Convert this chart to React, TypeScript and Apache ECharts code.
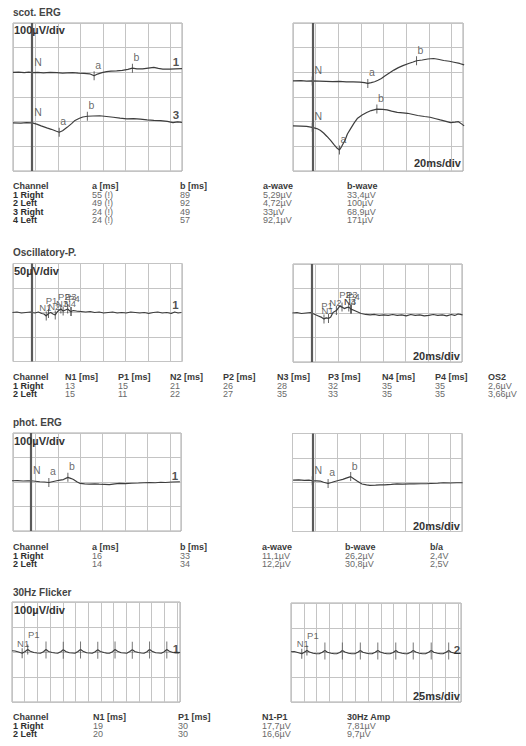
import React, { useEffect, useRef } from 'react';
import * as echarts from 'echarts';

type Pt = [number, number];
type Mark = [string, number];

// ---------- traces (time in ms after stimulus, amplitude in µV) ----------
const SCOT_CH1: Pt[] = [[-17,0],[-12,1],[-7,-1],[-3,1],[0,-1],[5,0],[10,-2],[16,0],[22,-1],[27,-3],[31,-2],[36,-1],[41,-3],[46,-4],[51,-6],[55,-14],[58,-7],[62,-1],[66,3],[70,5],[75,6],[80,8],[85,12],[89,17],[93,14],[98,14],[103,17],[108,20],[112,16],[116,13],[122,13],[127,14],[133,15]];
const SCOT_CH2: Pt[] = [[-17,0],[-10,1],[-5,-1],[0,0],[6,-1],[12,-2],[18,-3],[24,-2],[30,-4],[36,-4],[42,-5],[46,-7],[49,-10],[52,-7],[55,-3],[58,3],[61,10],[64,20],[68,32],[72,44],[76,54],[80,62],[85,71],[89,77],[92,82],[97,85],[102,89],[107,91],[111,88],[116,83],[121,80],[125,76],[130,71],[134,65]];
const SCOT_CH3: Pt[] = [[-17,0],[-10,-1],[-5,1],[0,0],[4,-5],[8,-12],[13,-20],[17,-26],[21,-33],[24,-38],[27,-32],[31,-18],[35,-3],[38,10],[42,19],[45,24],[49,27],[54,28],[60,29],[66,26],[72,23],[78,19],[84,16],[90,17],[96,15],[102,12],[108,10],[114,9],[120,6],[125,1],[129,4],[133,2]];
const SCOT_CH4: Pt[] = [[-17,3],[-10,2],[-5,1],[0,-3],[4,-8],[7,-15],[10,-26],[13,-40],[16,-55],[19,-72],[22,-88],[24,-95],[26,-80],[29,-54],[31,-30],[34,-7],[37,15],[40,34],[44,47],[48,57],[52,65],[57,71],[62,70],[66,68],[70,63],[75,58],[80,56],[84,54],[89,49],[93,45],[99,41],[104,38],[109,32],[113,27],[118,21],[122,16],[126,18],[129,20],[132,10],[134,3]];

const OP_CH1: Pt[] = [[-17,0],[-13,1],[-9,-1],[-5,0],[-1,1],[0,0],[3,-1],[6,1],[9,-2],[11,-3],[13,-7],[15,-2],[17,0],[19,-3],[21,-5],[23,2],[26,7],[28,3],[30,5],[32,7],[34,3],[35,2],[37,4],[40,3],[44,2],[48,1],[52,2],[56,0],[60,1],[64,-1],[68,0],[72,1],[76,-1],[80,0],[84,-1],[88,1],[92,0],[96,-1],[100,0],[104,-2],[108,0],[112,1],[116,-1],[120,0],[124,-2],[127,1],[130,-1],[133,0]];
const OP_CH2: Pt[] = [[-17,0],[-13,1],[-9,-1],[-5,0],[-1,1],[0,0],[3,-3],[6,-6],[9,-9],[11,-12],[13,-10],[15,-11],[17,-8],[19,1],[22,5],[25,14],[27,12],[29,9],[31,11],[33,12],[35,8],[38,5],[41,2],[44,-1],[48,-3],[52,-4],[56,-3],[60,-5],[64,-4],[68,-5],[72,-3],[76,-5],[80,-4],[84,-6],[88,-3],[92,-5],[96,-4],[100,-6],[104,-5],[108,-3],[112,-5],[116,-4],[120,-6],[124,-3],[127,-5],[130,-2],[134,-4]];

const PHOT_CH1: Pt[] = [[-17,0],[-12,1],[-7,-1],[-3,0],[0,0],[4,-2],[8,-4],[12,-5],[16,-7],[20,-3],[23,0],[26,3],[29,5],[33,14],[36,9],[38,5],[41,-4],[44,-11],[48,-13],[52,-14],[57,-13],[61,-14],[66,-15],[70,-16],[75,-13],[79,-11],[84,-12],[90,-10],[96,-9],[101,-8],[106,-7],[111,-8],[116,-6],[120,-7],[126,-5],[133,-4]];
const PHOT_CH2: Pt[] = [[-17,0],[-12,1],[-7,-1],[-3,0],[0,-3],[4,-3],[7,-4],[10,-9],[14,-14],[17,-10],[19,-7],[23,-2],[27,3],[30,8],[34,14],[37,4],[40,-5],[44,-16],[48,-20],[51,-22],[56,-21],[60,-20],[64,-20],[70,-18],[75,-16],[80,-17],[86,-16],[90,-16],[96,-15],[101,-15],[105,-14],[111,-13],[116,-11],[122,-12],[128,-11],[133,-11]];

const FLK_CH1: Pt[] = [[-1,1],[5,0],[12,-4],[19,-9],[25,-2],[30,6],[35,-1],[42,-6],[49,-8],[55,-9],[61,-3],[66,6],[71,-2],[78,-6],[84,-8],[89,-9],[95,-3],[100,5],[105,-2],[112,-7],[118,-8],[123,-9],[129,-2],[134,6],[139,-1],[146,-7],[152,-8],[157,-9],[163,-3],[168,5],[173,-2],[180,-6],[186,-9],[191,-9],[197,-3],[202,6],[207,-1],[214,-7],[220,-8],[225,-9],[231,-2],[236,5],[241,-2],[248,-6],[254,-8],[259,-9],[265,-3],[270,6],[275,-1],[282,-7],[288,-8],[293,-9],[299,-3],[304,6],[309,-1],[316,-6],[322,-8],[327,-8],[330,-5]];
const FLK_CH2: Pt[] = [[-1,0],[5,1],[12,-3],[20,-8],[25,-2],[30,5],[35,-1],[42,-6],[48,-8],[54,-8],[60,-2],[65,5],[70,-2],[77,-6],[83,-8],[88,-8],[94,-3],[99,5],[104,-1],[111,-6],[117,-8],[123,-8],[129,-2],[134,5],[139,-2],[146,-6],[152,-8],[157,-8],[163,-2],[168,5],[173,-1],[180,-6],[186,-8],[192,-8],[198,-3],[203,5],[208,-2],[215,-6],[221,-8],[226,-8],[232,-2],[237,5],[242,-1],[249,-6],[255,-8],[261,-8],[267,-2],[272,5],[277,-2],[284,-6],[290,-8],[295,-8],[301,-2],[306,5],[311,-2],[318,-6],[324,-7],[330,-6]];
const FLK_CH1_PEAKS = [66, 100, 134, 168, 202, 236, 270, 304];
const FLK_CH2_PEAKS = [65, 99, 134, 168, 203, 237, 272, 306];

// ---------- cursor marks (latencies from the tables) ----------
const SCOT_CH1_MARKS: Mark[] = [['N',0],['a',55],['b',89]];
const SCOT_CH2_MARKS: Mark[] = [['N',0],['a',49],['b',92]];
const SCOT_CH3_MARKS: Mark[] = [['N',0],['a',24],['b',49]];
const SCOT_CH4_MARKS: Mark[] = [['N',0],['a',24],['b',57]];
const OP_CH1_MARKS: Mark[] = [['N1',13],['P1',15],['N2',21],['P2',26],['N3',28],['P3',32],['N4',35],['P4',35]];
const OP_CH2_MARKS: Mark[] = [['N1',15],['P1',11],['N2',22],['P2',27],['N3',35],['P3',33],['N4',35],['P4',35]];
const PHOT_CH1_MARKS: Mark[] = [['N',0],['a',16],['b',33]];
const PHOT_CH2_MARKS: Mark[] = [['N',0],['a',14],['b',34]];
const FLK_CH1_MARKS: Mark[] = [['N1',19],['P1',30]];
const FLK_CH2_MARKS: Mark[] = [['N1',20],['P1',30]];

// ---------- tables ----------
const SCOT_HEAD = ['Channel', 'a [ms]', 'b [ms]', 'a-wave', 'b-wave'];
const SCOT_ROWS = [
  ['1 Right', '55 (!)', '89', '5,29µV', '33,4µV'],
  ['2 Left', '49 (!)', '92', '4,72µV', '100µV'],
  ['3 Right', '24 (!)', '49', '33µV', '68,9µV'],
  ['4 Left', '24 (!)', '57', '92,1µV', '171µV'],
];
const OP_HEAD = ['Channel', 'N1 [ms]', 'P1 [ms]', 'N2 [ms]', 'P2 [ms]', 'N3 [ms]', 'P3 [ms]', 'N4 [ms]', 'P4 [ms]', 'OS2'];
const OP_ROWS = [
  ['1 Right', '13', '15', '21', '26', '28', '32', '35', '35', '2,6µV'],
  ['2 Left', '15', '11', '22', '27', '35', '33', '35', '35', '3,66µV'],
];
const PHOT_HEAD = ['Channel', 'a [ms]', 'b [ms]', 'a-wave', 'b-wave', 'b/a'];
const PHOT_ROWS = [
  ['1 Right', '16', '33', '11,1µV', '26,2µV', '2,4V'],
  ['2 Left', '14', '34', '12,2µV', '30,8µV', '2,5V'],
];
const FLK_HEAD = ['Channel', 'N1 [ms]', 'P1 [ms]', 'N1-P1', '30Hz Amp'];
const FLK_ROWS = [
  ['1 Right', '19', '30', '17,7µV', '7,81µV'],
  ['2 Left', '20', '30', '16,6µV', '9,7µV'],
];

// ---------- layout ----------
const FONT = '"Liberation Sans", Arial, Helvetica, sans-serif';
const INK = '#3d3d3d';
const GRIDLINE = '#c4c4c4';

// [left, top, width, height, xMax, xInterval, yMin, yMax, yInterval]
const GRIDS = [
  [13, 23, 169, 148, 150, 20, -300, 300, 100],
  [293, 23, 170, 148, 150, 20, -300, 300, 100],
  [13, 263.5, 169, 98, 150, 20, -100, 100, 50],
  [293, 264, 169, 98, 150, 20, -100, 100, 50],
  [13, 433, 168, 98, 150, 20, -200, 200, 100],
  [292.5, 433.5, 169.5, 98, 150, 20, -200, 200, 100],
  [12, 602, 168, 100, 331, 25, -200, 200, 100],
  [291, 603, 170, 99, 331, 25, -200, 200, 100],
];

type Kind = 'erg' | 'op' | 'flk';
interface Channel {
  grid: number; label: string; trace: Pt[]; offset: number; marks: Mark[];
  stim: number; showStim: boolean; kind: Kind; peaks?: number[]; endOffset: [number, number];
}

const CHANNELS: Channel[] = [
  { grid: 0, label: '1', trace: SCOT_CH1, offset: 100, marks: SCOT_CH1_MARKS, stim: 17, showStim: true, kind: 'erg', endOffset: [-6, -7] },
  { grid: 0, label: '3', trace: SCOT_CH3, offset: -105, marks: SCOT_CH3_MARKS, stim: 17, showStim: false, kind: 'erg', endOffset: [-6, -7] },
  { grid: 1, label: '2', trace: SCOT_CH2, offset: 65, marks: SCOT_CH2_MARKS, stim: 17, showStim: true, kind: 'erg', endOffset: [-6, -7] },
  { grid: 1, label: '4', trace: SCOT_CH4, offset: -120, marks: SCOT_CH4_MARKS, stim: 17, showStim: false, kind: 'erg', endOffset: [-6, -8] },
  { grid: 2, label: '1', trace: OP_CH1, offset: 0, marks: OP_CH1_MARKS, stim: 16.5, showStim: true, kind: 'op', endOffset: [-6, -8] },
  { grid: 3, label: '2', trace: OP_CH2, offset: 0, marks: OP_CH2_MARKS, stim: 16.5, showStim: true, kind: 'op', endOffset: [-6, -6] },
  { grid: 4, label: '1', trace: PHOT_CH1, offset: 5, marks: PHOT_CH1_MARKS, stim: 16, showStim: true, kind: 'erg', endOffset: [-5, -6] },
  { grid: 5, label: '2', trace: PHOT_CH2, offset: 10, marks: PHOT_CH2_MARKS, stim: 17.5, showStim: true, kind: 'erg', endOffset: [-6, -6] },
  { grid: 6, label: '1', trace: FLK_CH1, offset: 4, marks: FLK_CH1_MARKS, stim: 1, showStim: false, kind: 'flk', peaks: FLK_CH1_PEAKS, endOffset: [-4, -3] },
  { grid: 7, label: '2', trace: FLK_CH2, offset: 3, marks: FLK_CH2_MARKS, stim: 1, showStim: false, kind: 'flk', peaks: FLK_CH2_PEAKS, endOffset: [-4, -3] },
];

const valueAt = (trace: Pt[], t: number) => {
  let best = trace[0];
  for (const p of trace) if (Math.abs(p[0] - t) < Math.abs(best[0] - t)) best = p;
  return best[1];
};

const plainLabel = { textBorderWidth: 0, textBorderColor: 'transparent', textShadowBlur: 0 };

function buildSeries() {
  const series: any[] = [];
  for (const ch of CHANNELS) {
    const ax = { xAxisIndex: ch.grid, yAxisIndex: ch.grid };
    const line: any = {
      type: 'line', ...ax, silent: true, showSymbol: false, symbol: 'none',
      lineStyle: { color: INK, width: 1.2 },
      data: ch.trace.map(([t, v]) => [t + ch.stim, v + ch.offset]),
      z: 3,
    };
    if (ch.showStim) {
      line.markLine = {
        silent: true, symbol: ['none', 'none'], animation: false,
        label: { show: false },
        lineStyle: { color: '#5a5a5a', width: 2.2, type: 'solid' },
        data: [{ xAxis: ch.stim }],
      };
    }
    series.push(line);

    series.push({
      type: 'scatter', ...ax, silent: true, z: 4,
      symbol: 'rect', symbolSize: ch.kind === 'flk' ? [1, 10] : [1, 9],
      itemStyle: { color: INK },
      data: ch.marks.map(([name, t]) => {
        const isP = name[0] === 'P';
        let offset: [number, number] = [4, -11];
        if (ch.kind === 'erg' && name === 'N') offset = [6, -11];
        if (ch.kind === 'op') offset = isP ? [3, -13] : [-1, -8];
        if (ch.kind === 'flk') offset = isP ? [6, -15] : [1, -10];
        return {
          name, value: [t + ch.stim, valueAt(ch.trace, t) + ch.offset],
          label: { show: true, formatter: name, position: 'inside', offset, color: '#444', fontSize: ch.kind === 'erg' ? 10.5 : 9.5, fontFamily: FONT, ...plainLabel },
        };
      }),
    });

    if (ch.peaks) {
      series.push({
        type: 'scatter', ...ax, silent: true, z: 4,
        symbol: 'rect', symbolSize: [1, 17], itemStyle: { color: '#555' },
        data: ch.peaks.map((t) => [t + ch.stim, valueAt(ch.trace, t) + ch.offset - 2]),
      });
    }

    const last = ch.trace[ch.trace.length - 1];
    series.push({
      type: 'scatter', ...ax, silent: true, z: 5,
      symbol: 'circle', symbolSize: 1, itemStyle: { color: 'rgba(0,0,0,0)' },
      data: [{
        value: [last[0] + ch.stim, last[1] + ch.offset],
        label: { show: true, formatter: ch.label, position: 'inside', offset: ch.endOffset, color: '#222', fontSize: 11.5, fontWeight: 'bold', fontFamily: FONT, ...plainLabel },
      }],
    });
  }
  return series;
}

function textEl(text: string, x: number, y: number, opts: any = {}) {
  return {
    type: 'text', x, y, silent: true, z: 10,
    style: {
      text, fill: opts.fill || '#333', fontSize: opts.size || 9, fontWeight: opts.bold ? 'bold' : 'normal',
      fontFamily: FONT, align: opts.align || 'left', verticalAlign: 'middle',
    },
  };
}

function tableEls(head: string[], rows: string[][], cols: number[], y0: number, rowH: number) {
  const els: any[] = [];
  head.forEach((h, j) => els.push(textEl(h, cols[j], y0, { bold: true, fill: '#3a3a3a', size: 9 })));
  rows.forEach((r, i) => r.forEach((c, j) => {
    els.push(textEl(c, cols[j], y0 + (i + 1) * rowH, j === 0 ? { bold: true, fill: '#2e2e2e', size: 9 } : { fill: '#6a6a6a', size: 9 }));
  }));
  return els;
}

function buildGraphic() {
  const g: any[] = [];
  g.push(textEl('scot. ERG', 13, 12, { bold: true, size: 10, fill: '#444' }));
  g.push(textEl('100µV/div', 14, 30, { bold: true, size: 11, fill: '#333' }));
  g.push(textEl('20ms/div', 461, 163, { bold: true, size: 11, fill: '#333', align: 'right' }));
  g.push(...tableEls(SCOT_HEAD, SCOT_ROWS, [13, 92, 180, 263, 347], 186, 8.6));

  g.push(textEl('Oscillatory-P.', 13, 252, { bold: true, size: 10, fill: '#444' }));
  g.push(textEl('50µV/div', 14, 271, { bold: true, size: 11, fill: '#333' }));
  g.push(textEl('20ms/div', 460, 356, { bold: true, size: 11, fill: '#333', align: 'right' }));
  g.push(...tableEls(OP_HEAD, OP_ROWS, [13, 65, 118, 170, 223, 277, 328, 382, 435, 488], 377, 8.6));

  g.push(textEl('phot. ERG', 13, 422, { bold: true, size: 10, fill: '#444' }));
  g.push(textEl('100µV/div', 14, 441, { bold: true, size: 11, fill: '#333' }));
  g.push(textEl('20ms/div', 460, 526, { bold: true, size: 11, fill: '#333', align: 'right' }));
  g.push(...tableEls(PHOT_HEAD, PHOT_ROWS, [13, 92, 180, 262, 345, 430], 547, 8.6));

  g.push(textEl('30Hz Flicker', 13, 592, { bold: true, size: 10, fill: '#444' }));
  g.push(textEl('100µV/div', 14, 610, { bold: true, size: 11, fill: '#333' }));
  g.push(textEl('25ms/div', 460, 696, { bold: true, size: 11, fill: '#333', align: 'right' }));
  g.push(...tableEls(FLK_HEAD, FLK_ROWS, [13, 93, 178, 262, 347], 717, 8.6));
  return g;
}

export default function App() {
  const ref = useRef<HTMLDivElement>(null);
  useEffect(() => {
    if (!ref.current) return;
    const chart = echarts.init(ref.current, undefined, { renderer: 'svg' });
    const option: any = {
      animation: false,
      backgroundColor: '#ffffff',
      grid: GRIDS.map((g) => ({ left: g[0], top: g[1], width: g[2], height: g[3], show: true, borderColor: '#a9a9a9', borderWidth: 1, backgroundColor: 'transparent' })),
      xAxis: GRIDS.map((g, i) => ({
        type: 'value', gridIndex: i, min: 0, max: g[4], interval: g[5],
        axisLine: { show: false }, axisTick: { show: false }, axisLabel: { show: false },
        splitLine: { show: true, lineStyle: { color: GRIDLINE, width: 1 } },
      })),
      yAxis: GRIDS.map((g, i) => ({
        type: 'value', gridIndex: i, min: g[6], max: g[7], interval: g[8],
        axisLine: { show: false }, axisTick: { show: false }, axisLabel: { show: false },
        splitLine: { show: true, lineStyle: { color: GRIDLINE, width: 1 } },
      })),
      series: buildSeries(),
      graphic: buildGraphic(),
    };
    chart.setOption(option);
    return () => chart.dispose();
  }, []);
  return <div ref={ref} style={{ position: 'fixed', left: 0, top: 0, width: 526, height: 746, background: '#fff' }} />;
}
